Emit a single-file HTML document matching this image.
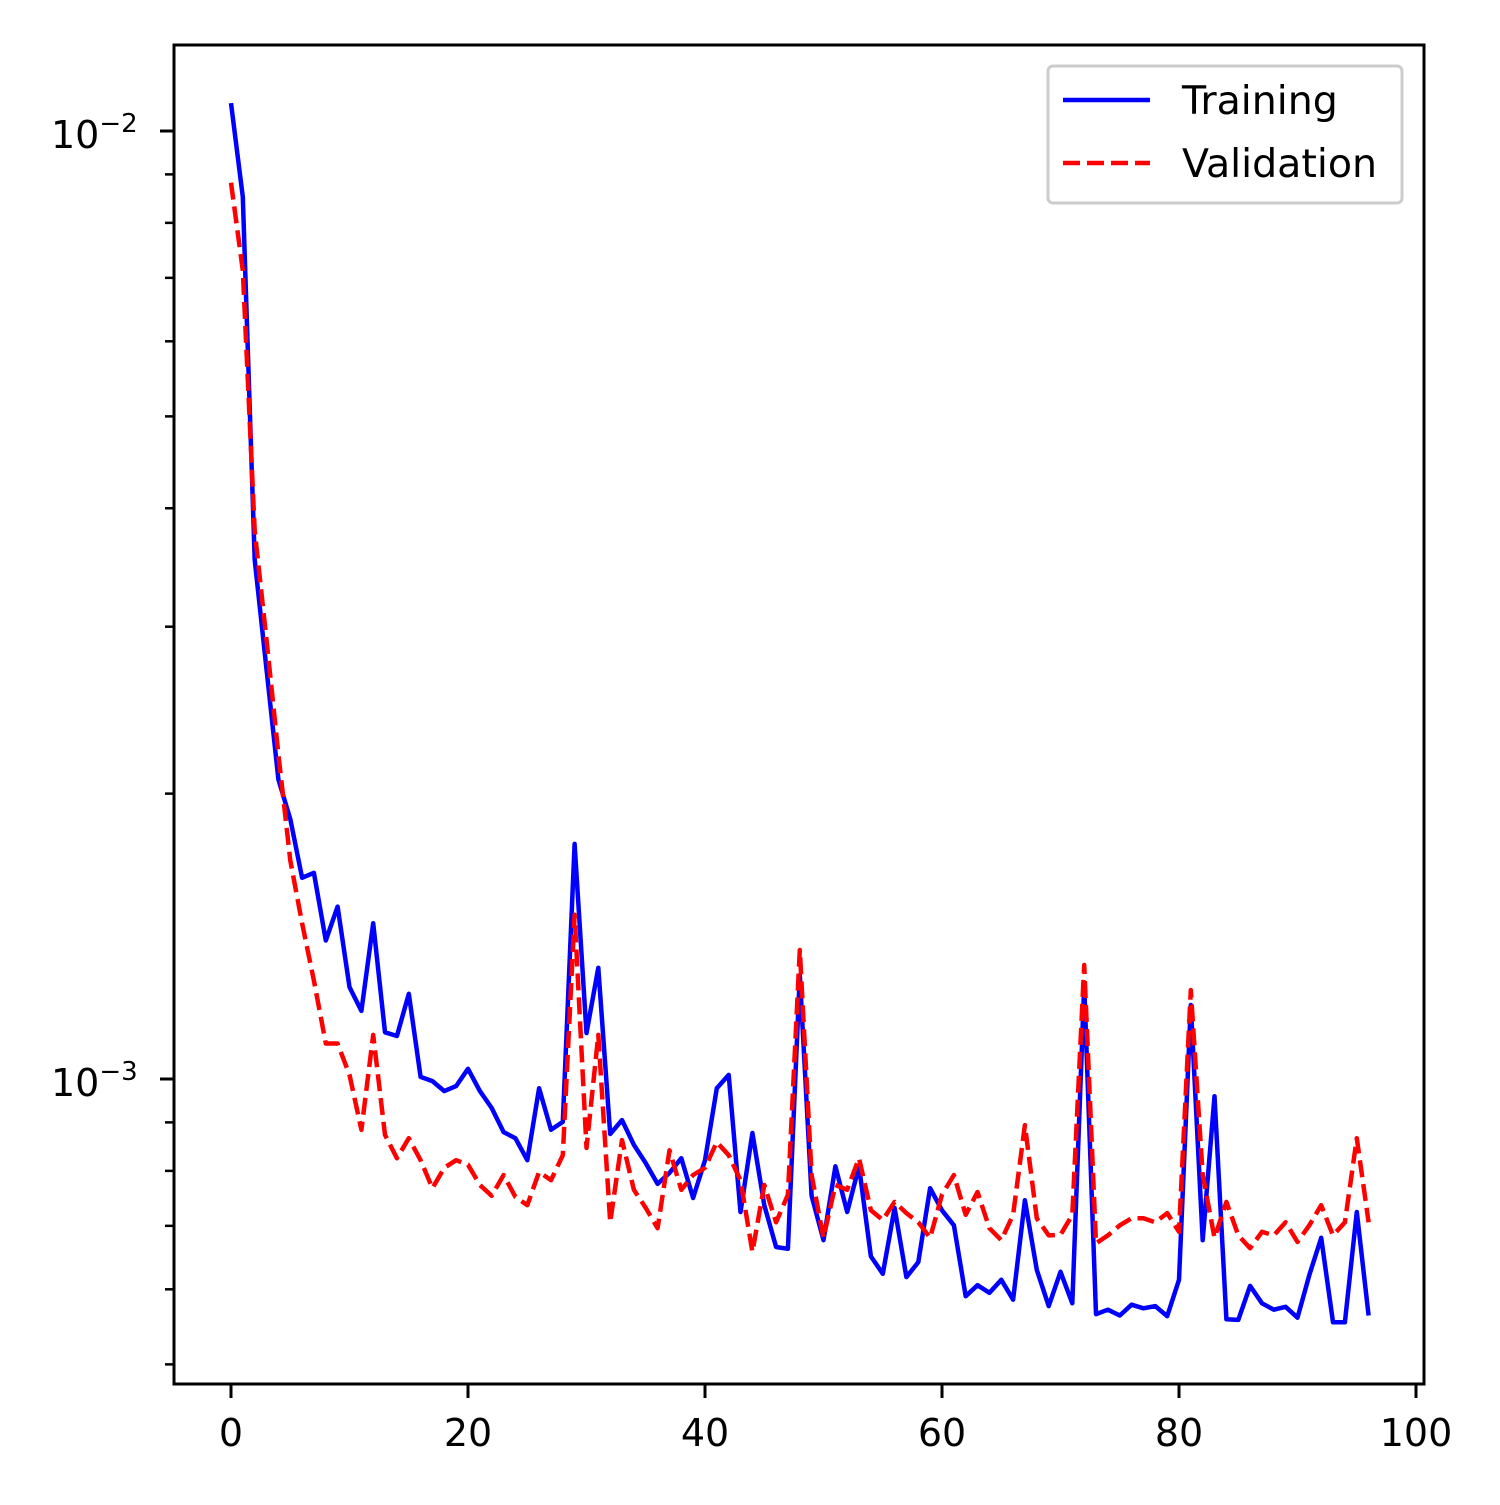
<!DOCTYPE html>
<html><head><meta charset="utf-8"><style>
html,body{margin:0;padding:0;background:#fff;}
svg text{font-family:"DejaVu Sans","Liberation Sans",sans-serif;fill:#000;}
</style></head><body>
<svg id="chart" width="1500" height="1500" viewBox="0 0 1500 1500" xmlns="http://www.w3.org/2000/svg">
<rect width="1500" height="1500" fill="#fff"/>
<g id="ticks"></g>
<g id="series"></g>
<rect x="174" y="45" width="1250" height="1339" fill="none" stroke="#000" stroke-width="3"/>
<g>
<rect x="1048" y="66" width="354" height="137" rx="5" fill="#fff" fill-opacity="0.8" stroke="#ccc" stroke-width="3"/>
<line x1="1063" y1="100" x2="1150" y2="100" stroke="#0000ff" stroke-width="4.5"/>
<text x="1182" y="114" font-size="39.5">Training</text>
<line x1="1063" y1="163" x2="1150" y2="163" stroke="#ff0000" stroke-width="4.5" stroke-dasharray="17,7"/>
<text x="1182" y="177" font-size="39.5">Validation</text>
</g>
</svg>
<script>
const epochs = Array.from({length:97},(_,i)=>i);
const trainLoss = [10.7,8.52,3.53,2.70,2.07,1.88,1.63,1.65,1.40,1.52,1.25,1.18,1.46,1.12,1.11,1.23,1.005,0.995,0.971,0.983,1.025,0.971,0.932,0.879,0.866,0.821,0.978,0.884,0.901,1.77,1.118,1.31,0.875,0.905,0.852,0.815,0.775,0.796,0.825,0.749,0.821,0.978,1.01,0.724,0.877,0.736,0.665,0.662,1.287,0.753,0.676,0.809,0.724,0.809,0.650,0.623,0.731,0.618,0.641,0.767,0.727,0.701,0.590,0.606,0.595,0.614,0.585,0.745,0.629,0.576,0.626,0.580,1.256,0.565,0.571,0.563,0.578,0.573,0.576,0.562,0.614,1.197,0.676,0.959,0.558,0.557,0.605,0.580,0.571,0.575,0.560,0.621,0.680,0.554,0.554,0.724,0.563];
const valLoss = [8.82,7.13,3.79,2.90,2.20,1.70,1.46,1.27,1.09,1.09,1.01,0.884,1.113,0.873,0.825,0.866,0.821,0.767,0.806,0.821,0.812,0.773,0.753,0.792,0.751,0.736,0.798,0.782,0.831,1.49,0.846,1.113,0.706,0.862,0.764,0.731,0.696,0.841,0.764,0.792,0.806,0.858,0.831,0.782,0.657,0.773,0.706,0.755,1.368,0.792,0.680,0.773,0.764,0.825,0.727,0.710,0.742,0.722,0.706,0.680,0.755,0.792,0.719,0.760,0.696,0.676,0.719,0.894,0.713,0.684,0.685,0.719,1.319,0.671,0.684,0.701,0.713,0.713,0.706,0.722,0.690,1.241,0.792,0.680,0.742,0.684,0.663,0.690,0.684,0.706,0.673,0.701,0.736,0.684,0.706,0.866,0.706];
const lossScale = 1e-3;
const xTicks = [0,20,40,60,80,100];
const yMajor = [-2,-3];

const NS='http://www.w3.org/2000/svg';
function X(v){return 231 + v*11.85;}
function Y(v){return 1079 - (Math.log10(v)+3)*948;}
function mk(tag,attrs,parent){const e=document.createElementNS(NS,tag);for(const k in attrs)e.setAttribute(k,attrs[k]);parent.appendChild(e);return e;}
const tg=document.getElementById('ticks');
xTicks.forEach(t=>{
  const l=mk('line',{x1:X(t),x2:X(t),y1:1384,y2:1398,stroke:'#000','stroke-width':3},tg);
  
  
  const tx=mk('text',{x:X(t),y:1446,'font-size':38,'text-anchor':'middle'},tg);
  
  
  tx.textContent=t;
});
yMajor.forEach(e=>{
  const y=Y(Math.pow(10,e));
  const l=mk('line',{x1:160,x2:174,y1:y,y2:y,stroke:'#000','stroke-width':3},tg);
  
  
  const tx=mk('text',{x:51,y:y+17,'font-size':38},tg);
  
  
  tx.textContent='10';
  const ts=mk('tspan',{dy:-16,'font-size':26},tx);
  ts.textContent='\u2212'+(-e);
});
[-4,-3].forEach(e=>{for(let m=2;m<=9;m++){const v=m*Math.pow(10,e);const y=Y(v);if(y<45||y>1384)continue;
  const l=mk('line',{x1:165,x2:174,y1:y,y2:y,stroke:'#000','stroke-width':2.5},tg);
  
  
}});
const sg=document.getElementById('series');
function pts(arr){return epochs.map((x,i)=>X(x).toFixed(1)+','+Y(arr[i]*lossScale).toFixed(1)).join(' ');}
const pt=mk('polyline',{points:pts(trainLoss),fill:'none',stroke:'#0000ff','stroke-width':4.5,'stroke-linejoin':'round'},sg);


const pv=mk('polyline',{points:pts(valLoss),fill:'none',stroke:'#ff0000','stroke-width':4.5,'stroke-dasharray':'17,7','stroke-linejoin':'round'},sg);


</script>
</body></html>
